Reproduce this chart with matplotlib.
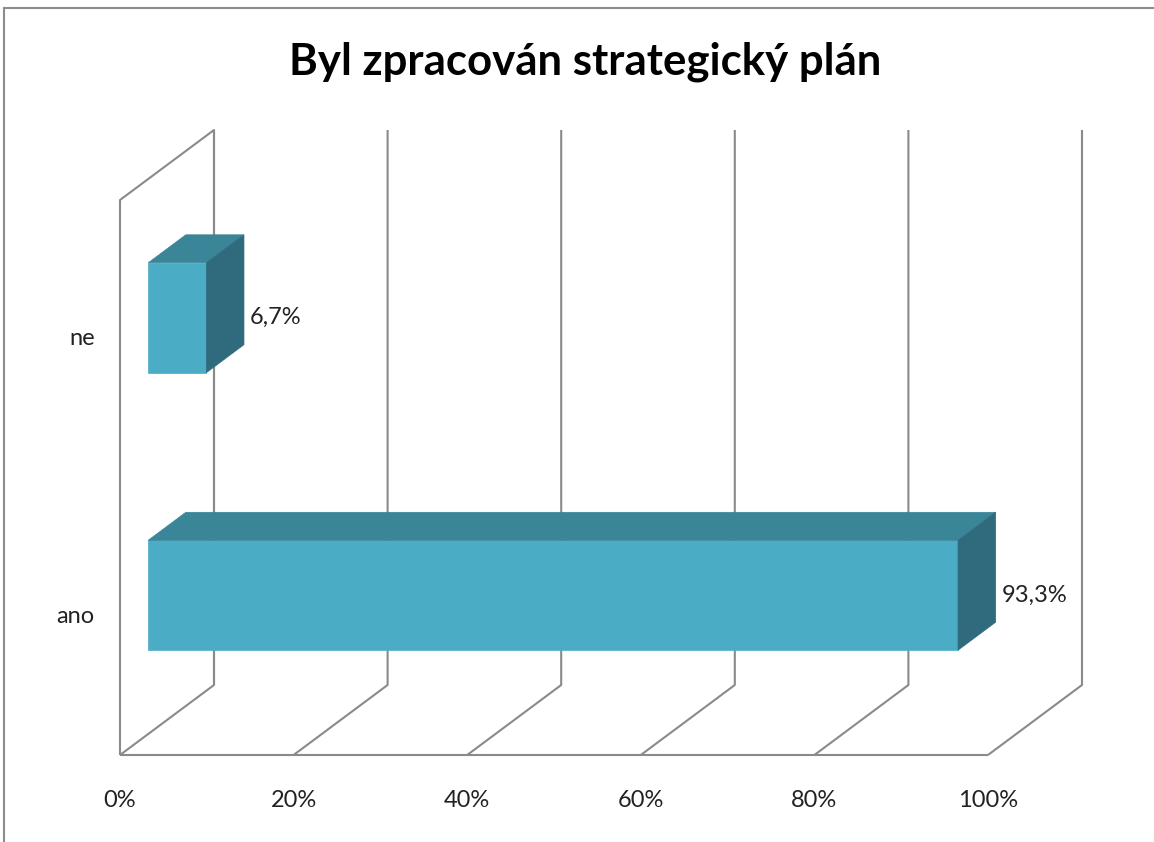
import numpy as np
import matplotlib
matplotlib.use('Agg')
import matplotlib.pyplot as plt
from matplotlib.patches import Polygon, Rectangle

# data
categories = ['ano', 'ne']
values = [93.3, 6.7]
value_labels = ['93,3%', '6,7%']
ticks = [0, 20, 40, 60, 80, 100]
tick_labels = ['0%', '20%', '40%', '60%', '80%', '100%']
title = 'Byl zpracován strategický plán'

plt.rcParams['font.family'] = ['Lato', 'DejaVu Sans']

W, H = 1154, 842
fig = plt.figure(figsize=(W / 100, H / 100), dpi=100)

# outer chart border
fig.patches.append(Rectangle((4 / W, -0.1), 1.2, (H - 8) / H + 0.1,
                             transform=fig.transFigure, fill=False,
                             ec='#8c8c8c', lw=1.5))

# front plane of the 3d box
x0, x1, yb, yt = 120, 988, 755, 200
ax = fig.add_axes([x0 / W, (H - yb) / H, (x1 - x0) / W, (yb - yt) / H])
ax.set_xlim(0, 100)
ax.set_ylim(0, len(categories))
ax.axis('off')

# oblique depth offset (full depth) in data units
DX = 94 / (x1 - x0) * 100
DY = 70 / ((yb - yt) / len(categories))


def P(x, y, d):
    return (x + d * DX, y + d * DY)


grid_kw = dict(color='#8a8a8a', lw=1.5, clip_on=False, zorder=1,
               solid_capstyle='butt')
top = len(categories)

# left wall
pts = [P(0, 0, 0), P(0, top, 0), P(0, top, 1), P(0, 0, 1)]
ax.plot([p[0] for p in pts], [p[1] for p in pts], **grid_kw)
# floor front edge
ax.plot([0, 100], [0, 0], **grid_kw)
for t, tl in zip(ticks, tick_labels):
    a, b, c = P(t, 0, 0), P(t, 0, 1), P(t, top, 1)
    ax.plot([a[0], b[0], c[0]], [a[1], b[1], c[1]], **grid_kw)
    ax.text(t, -0.165, tl, ha='center', va='center',
            fontsize=17, color='#222222')

# bars
h = 0.198
d0, d1 = 0.3, 0.7
front_c, top_c, side_c = '#4bacc6', '#3a8598', '#2f6b7d'
for i, (cat, v, lab) in enumerate(zip(categories, values, value_labels)):
    c = i + 0.5
    front = [P(0, c - h, d0), P(v, c - h, d0), P(v, c + h, d0), P(0, c + h, d0)]
    topf = [P(0, c + h, d0), P(v, c + h, d0), P(v, c + h, d1), P(0, c + h, d1)]
    side = [P(v, c - h, d0), P(v, c - h, d1), P(v, c + h, d1), P(v, c + h, d0)]
    for poly, col in [(front, front_c), (topf, top_c), (side, side_c)]:
        ax.add_patch(Polygon(poly, closed=True, fc=col, ec=col, lw=0.5,
                             clip_on=False, zorder=3))
    lx, ly = P(v, c, d1)
    ax.text(lx + 0.7, P(v, c, d0)[1], lab, ha='left', va='center',
            fontsize=17, color='#222222')
    ax.text(-2.9, c, cat, ha='right', va='center', fontsize=17,
            color='#222222')

fig.text(585 / W, 1 - 62 / H, title, ha='center', va='center',
         fontsize=31.5, fontweight='bold', color='black')

fig.savefig('out.png', dpi=100)
